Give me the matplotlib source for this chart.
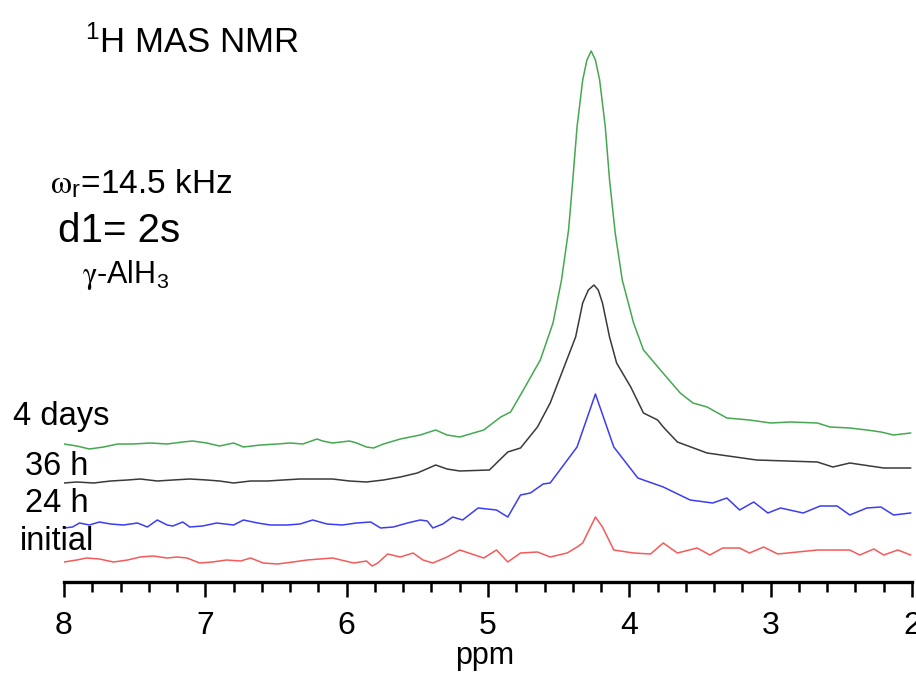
import numpy as np
import matplotlib
matplotlib.use("Agg")
import matplotlib.pyplot as plt
from matplotlib.ticker import MultipleLocator

plt.rcParams['font.family'] = ['Liberation Sans', 'DejaVu Sans']
plt.rcParams['mathtext.fontset'] = 'custom'
plt.rcParams['mathtext.rm'] = 'Liberation Sans'
plt.rcParams['mathtext.it'] = 'Liberation Sans:italic'

# chemical shift (ppm) and intensity above each trace's baseline (arb. units)
ppm_green = [8.00, 7.91, 7.82, 7.72, 7.62, 7.51, 7.39, 7.27, 7.16, 7.09, 6.99, 6.90, 6.80, 6.73,
             6.61, 6.49, 6.40, 6.31, 6.21, 6.17, 6.10, 5.98, 5.93, 5.86, 5.81, 5.74, 5.62, 5.48,
             5.37, 5.29, 5.20, 5.03, 4.91, 4.84, 4.75, 4.63, 4.54, 4.48, 4.43, 4.40, 4.37, 4.33,
             4.30, 4.27, 4.24, 4.21, 4.17, 4.14, 4.10, 4.05, 3.97, 3.90, 3.78, 3.64, 3.55, 3.45,
             3.31, 3.15, 3.00, 2.86, 2.67, 2.58, 2.44, 2.32, 2.22, 2.13, 2.01]
int_green = [0, -2, -5, -3, 0, 0, 1, 0, 2, 3, 1, -2, 1, -3,
             -1, 0, 1, 0, 5, 3, 1, 3, 1, -3, -4, 0, 5, 9,
             14, 9, 7, 14, 27, 32, 54, 84, 121, 164, 214, 264, 317, 364,
             384, 393, 384, 364, 317, 264, 211, 164, 121, 94, 74, 51, 41, 37,
             26, 24, 21, 22, 21, 17, 16, 14, 12, 9, 11]

ppm_black = [8.00, 7.91, 7.79, 7.67, 7.55, 7.46, 7.34, 7.23, 7.11, 6.99, 6.90, 6.80, 6.68, 6.56,
             6.45, 6.33, 6.21, 6.10, 5.98, 5.86, 5.74, 5.62, 5.50, 5.37, 5.29, 5.20, 4.99, 4.86,
             4.77, 4.65, 4.56, 4.47, 4.38, 4.33, 4.29, 4.25, 4.22, 4.19, 4.14, 4.09, 3.99, 3.90,
             3.80, 3.76, 3.66, 3.45, 3.10, 2.67, 2.56, 2.44, 2.20, 2.01]
int_black = [0, 1, 0, 2, 3, 4, 2, 3, 4, 3, 2, 0, 2, 2,
             3, 4, 4, 4, 2, 1, 3, 6, 10, 18, 14, 12, 13, 31,
             35, 56, 80, 113, 146, 180, 193, 198, 193, 180, 146, 120, 96, 70,
             63, 56, 41, 30, 23, 21, 16, 20, 15, 15]

ppm_blue = [8.00, 7.94, 7.89, 7.82, 7.75, 7.67, 7.58, 7.48, 7.41, 7.34, 7.27, 7.23, 7.16, 7.11,
            7.02, 6.92, 6.80, 6.73, 6.63, 6.54, 6.42, 6.33, 6.24, 6.14, 6.03, 5.93, 5.83, 5.76,
            5.67, 5.57, 5.48, 5.43, 5.39, 5.32, 5.25, 5.18, 5.07, 4.94, 4.86, 4.77, 4.70, 4.61,
            4.56, 4.37, 4.24, 4.11, 3.94, 3.76, 3.57, 3.41, 3.31, 3.22, 3.12, 3.02, 2.93, 2.77,
            2.65, 2.53, 2.44, 2.32, 2.22, 2.13, 2.01]
int_blue = [0, 1, 5, 3, 6, 4, 3, 5, 1, 8, 3, 2, 6, 1,
            2, 5, 3, 8, 5, 3, 3, 4, 8, 4, 3, 5, 6, 0,
            1, 5, 8, 7, 0, 4, 11, 8, 20, 18, 11, 33, 35, 44,
            45, 81, 134, 81, 50, 41, 28, 25, 30, 18, 26, 15, 20, 15,
            22, 22, 13, 20, 21, 13, 15]

ppm_red = [8.00, 7.91, 7.84, 7.75, 7.65, 7.55, 7.46, 7.37, 7.27, 7.20, 7.13, 7.04, 6.95, 6.85,
           6.75, 6.68, 6.59, 6.49, 6.38, 6.28, 6.19, 6.10, 5.95, 5.86, 5.82, 5.78, 5.71, 5.62,
           5.53, 5.46, 5.39, 5.29, 5.20, 5.03, 4.94, 4.86, 4.77, 4.65, 4.56, 4.44, 4.37, 4.33,
           4.24, 4.19, 4.11, 3.97, 3.85, 3.76, 3.66, 3.52, 3.43, 3.34, 3.22, 3.15, 3.05, 2.95,
           2.67, 2.44, 2.37, 2.27, 2.20, 2.10, 2.01]
int_red = [0, 2, 4, 3, 0, 2, 5, 6, 4, 5, 4, -1, 0, 2,
           1, 4, -1, -2, 0, 2, 3, 4, -1, 1, -4, -1, 8, 5,
           9, 2, -1, 5, 12, 4, 12, 0, 9, 10, 5, 9, 15, 19,
           45, 35, 12, 9, 8, 19, 9, 14, 7, 14, 14, 9, 15, 8,
           12, 12, 7, 13, 7, 12, 7]

labels = ['4 days', '36 h', '24 h', 'initial']
offsets = [138, 99, 54, 20]
colors = ['#45a850', '#3a3a3a', '#3c3cf5', '#f55a5a']

fig = plt.figure(figsize=(9.16, 6.73), dpi=100)
ax = fig.add_axes([64 / 916, 91 / 673, 848 / 916, 582 / 673])

series = [(ppm_green, int_green), (ppm_black, int_black), (ppm_blue, int_blue), (ppm_red, int_red)]
for (x, y), off, c in zip(series, offsets, colors):
    ax.plot(x, np.array(y) + off, color=c, lw=1.1)

ax.set_xlim(8, 2)
ax.set_ylim(0, 582)
for s in ['left', 'top', 'right']:
    ax.spines[s].set_visible(False)
ax.spines['bottom'].set_linewidth(2.4)
ax.set_yticks([])
ax.xaxis.set_major_locator(MultipleLocator(1))
ax.xaxis.set_minor_locator(MultipleLocator(0.2))
ax.tick_params(axis='x', which='major', length=11, width=1.8, pad=10, labelsize=23)
ax.tick_params(axis='x', which='minor', length=7, width=1.8)
ax.set_xlabel('ppm', fontsize=22, va='baseline')
ax.xaxis.set_label_coords(0.4965, -0.141)

# annotations
fig.text(85 / 916, 1 - 53 / 673, r'$\mathregular{^1}$H MAS NMR', fontsize=25, va='baseline')
fig.text(50 / 916, 1 - 193 / 673, r'$\mathrm{\omega}_\mathregular{r}$=14.5 kHz', fontsize=24,
         va='baseline', math_fontfamily='stix')
fig.text(58 / 916, 1 - 242 / 673, 'd1= 2s', fontsize=29, va='baseline')
fig.text(82 / 916, 1 - 283 / 673, r'$\mathrm{\gamma}$-AlH$\mathregular{_3}$', fontsize=22,
         va='baseline', math_fontfamily='stix')

label_x = [13, 25, 25, 20]
label_base = [425, 475, 512, 550]
for t, lx, ly in zip(labels, label_x, label_base):
    fig.text(lx / 916, 1 - ly / 673, t, fontsize=23.5, va='baseline')

fig.savefig('out.png', dpi=100)
